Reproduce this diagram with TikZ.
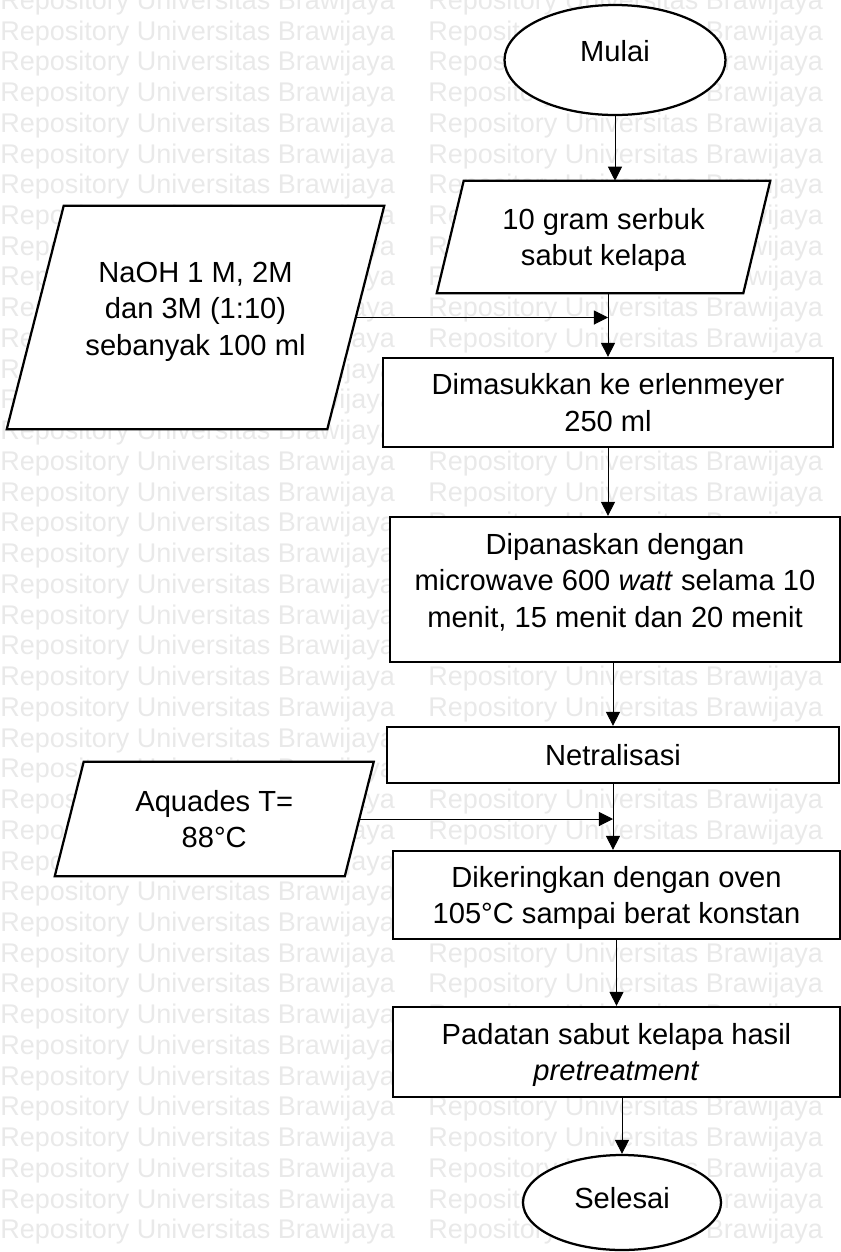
\documentclass[tikz,border=0pt]{standalone}
\usepackage{fontspec}
\setmainfont{Liberation Sans}
\usepackage{tikz}
\usetikzlibrary{shapes.geometric, arrows.meta, calc}
\usepackage{xcolor}
\definecolor{wmgray}{RGB}{233,233,233}
\newcommand{\px}{0.025cm}
\pgfdeclarelayer{watermark}
\pgfdeclarelayer{shapes}
\pgfsetlayers{watermark,shapes,main}

\begin{document}
\begin{tikzpicture}[x=\px, y=-\px,
    wm/.style={anchor=base west, inner sep=0pt, text=wmgray, font=\fontsize{19.2}{23}\selectfont},
    box/.style={draw, line width=1.6pt, fill=white, align=center, inner sep=0pt, font=\fontsize{20.7}{26}\selectfont},
    datain/.style={align=center, inner sep=0pt, font=\fontsize{20.7}{26}\selectfont},
    term/.style={ellipse, draw, line width=1.6pt, fill=white, inner sep=0pt, font=\fontsize{20.7}{26}\selectfont},
    arr/.style={-{Triangle[width=10pt,length=10pt]}, line width=0.7pt}]
    \useasboundingbox (0,0) rectangle (841,1252);

    % watermark
    \begin{pgfonlayer}{watermark}
    \foreach \k in {0,...,40}
        \foreach \c/\xx in {a/0,b/428}
            \node[wm] (wm-\c\k) at (\xx, 9.3+30.74*\k) {Repository Universitas Brawijaya};
    \end{pgfonlayer}

    % main column
    \node[term, minimum width=221*\px, minimum height=110*\px, text depth=0.475cm] (mulai) at (615,60) {Mulai};
    \node[datain, minimum width=306*\px, minimum height=112*\px, text depth=-0.145cm] (bahan) at (603.5,237) {10 gram serbuk\\sabut kelapa};
    \node[box, minimum width=450*\px, minimum height=89*\px] (masuk) at (608,402.5) {Dimasukkan ke erlenmeyer\\250 ml};
    \node[box, minimum width=450*\px, minimum height=145*\px, text depth=0.455cm] (panas) at (615,589.5) {Dipanaskan dengan\\microwave 600 \textit{watt} selama 10\\menit, 15 menit dan 20 menit};
    \node[box, minimum width=452*\px, minimum height=56*\px] (netral) at (613,755) {Netralisasi};
    \node[box, minimum width=447*\px, minimum height=88*\px, text depth=-0.195cm] (kering) at (616.5,895) {Dikeringkan dengan oven\\105°C sampai berat konstan};
    \node[box, minimum width=447*\px, minimum height=90*\px, text depth=0pt] (padat) at (616.5,1052) {Padatan sabut kelapa hasil\\\textit{pretreatment}};
    \node[term, minimum width=198*\px, minimum height=95*\px, text depth=0.225cm] (selesai) at (622,1202.5) {Selesai};

    % side inputs
    \node[datain, minimum width=320*\px, minimum height=223*\px, text depth=0.45cm] (naoh) at (195.5,317.5) {NaOH 1 M, 2M\\dan 3M (1:10)\\sebanyak 100 ml};
    \node[datain, minimum width=289.5*\px, minimum height=114*\px] (aquades) at (214.25,819) {Aquades T=\\88°C};

    \begin{pgfonlayer}{shapes}
    \foreach \n/\s in {naoh/28.5, bahan/13.5, aquades/14.5}
        \draw[line width=1.6pt, fill=white] ($(\n.north west)+(\s,0)$) -- ($(\n.north east)+(\s,0)$)
            -- ($(\n.south east)-(\s,0)$) -- ($(\n.south west)-(\s,0)$) -- cycle;
    \end{pgfonlayer}

    \draw[arr] (mulai.south) -- (mulai.south |- bahan.north);
    \draw[arr] (masuk.north |- bahan.south) -- (masuk.north);
    \draw[arr] (naoh.east) -- (naoh.east -| masuk.north);
    \draw[arr] (masuk.south) -- (masuk.south |- panas.north);
    \draw[arr] (netral.north |- panas.south) -- (netral.north);
    \draw[arr] (netral.south) -- (netral.south |- kering.north);
    \draw[arr] (aquades.east) -- (aquades.east -| netral.south);
    \draw[arr] (kering.south) -- (kering.south |- padat.north);
    \draw[arr] (selesai.north |- padat.south) -- (selesai.north);
\end{tikzpicture}
\end{document}
